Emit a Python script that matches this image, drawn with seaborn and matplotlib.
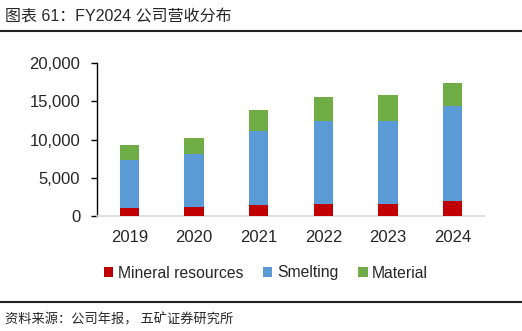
import matplotlib
matplotlib.use("Agg")
import matplotlib.pyplot as plt
import seaborn as sns
import pandas as pd
import numpy as np
from matplotlib.patches import Patch
from matplotlib.lines import Line2D

years = ["2019", "2020", "2021", "2022", "2023", "2024"]
mineral = [1050, 1230, 1440, 1575, 1575, 1970]
smelting = [6300, 6910, 9640, 10855, 10855, 12470]
material = [1930, 2100, 2750, 3150, 3370, 2940]
series_names = ["Mineral resources", "Smelting", "Material"]
colors = ["#C00000", "#5B9BD5", "#70AD47"]
title = "图表 61：FY2024 公司营收分布"
source = "资料来源：公司年报， 五矿证券研究所"

sns.set_theme(style="white")
plt.rcParams['font.family'] = ['Liberation Sans', 'Noto Sans CJK SC', 'DejaVu Sans']

fig = plt.figure(figsize=(5.22, 3.31), dpi=100)
W, H = 522, 331
ax = fig.add_axes([97 / W, 1 - 216 / H, (485 - 97) / W, (216 - 63.3) / H])

df = pd.DataFrame({"year": years, "Mineral resources": mineral,
                   "Smelting": smelting, "Material": material})
bottom = np.zeros(len(years))
for name, c in zip(series_names, colors):
    vals = df[name].values
    sns.barplot(x=df["year"], y=bottom + vals, color=c, ax=ax, width=0.3,
                saturation=1, edgecolor="none", linewidth=0)
    bottom = bottom + vals

# cumulative bars: draw lower segments on top
n = len(years)
for i, p in enumerate(ax.patches):
    p.set_zorder(10 - i // n)

ax.set_xlim(-0.5, 5.5)
ax.set_ylim(0, 20000)
ax.set_yticks([0, 5000, 10000, 15000, 20000])
ax.set_yticklabels(["0", "5,000", "10,000", "15,000", "20,000"])
ax.set_xlabel("")
ax.set_ylabel("")
for s in ["top", "right"]:
    ax.spines[s].set_visible(False)
ax.spines["left"].set_color("black")
ax.spines["left"].set_linewidth(1.0)
ax.spines["bottom"].set_color("#d9d9d9")
ax.spines["bottom"].set_linewidth(1.2)
ax.tick_params(axis="y", which="both", left=True, length=4, width=1, color="black",
               labelsize=12, pad=8)
ax.tick_params(axis="x", bottom=False, labelsize=12, pad=4)
for lbl in ax.get_xticklabels() + ax.get_yticklabels():
    lbl.set_fontfamily(['Liberation Sans', 'DejaVu Sans'])

handles = [Patch(facecolor=c, edgecolor="none") for c in colors]
leg = fig.legend(handles, series_names, loc="center", bbox_to_anchor=(266 / W, 1 - 273 / H),
                 ncol=3, frameon=False, fontsize=11.3, handlelength=0.6, handleheight=0.6,
                 handletextpad=0.3, columnspacing=1.25)

fig.text(5 / W, 1 - 15.5 / H, title, fontsize=11.5, ha="left", va="center",
         family=['Liberation Sans', 'Noto Sans CJK SC'])
fig.add_artist(Line2D([0, 1], [1 - 30.5 / H, 1 - 30.5 / H], color="#222222", lw=1.5,
                      transform=fig.transFigure))
fig.add_artist(Line2D([0, 1], [1 - 302 / H, 1 - 302 / H], color="#222222", lw=1.5,
                      transform=fig.transFigure))
fig.text(5 / W, 1 - 320 / H, source, fontsize=9.5, ha="left", va="center",
         family=['Noto Sans CJK SC', 'DejaVu Sans'])

fig.savefig("out.png", dpi=100)
